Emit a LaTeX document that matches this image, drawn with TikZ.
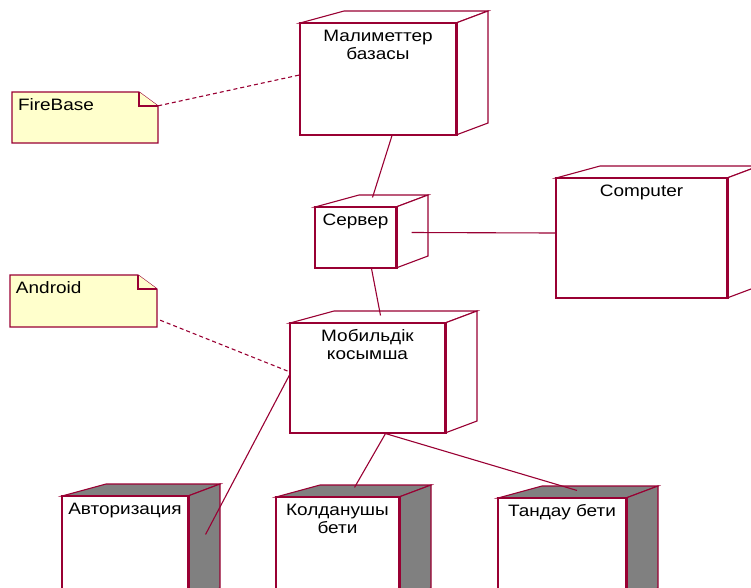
\documentclass[tikz,border=0pt]{standalone}
\usepackage{fontspec}
\setmainfont{Liberation Sans}[FakeStretch=1.15]
\usepackage{tikz}
\definecolor{rosered}{RGB}{153,0,51}
\definecolor{noteyellow}{RGB}{255,255,204}
\definecolor{sidegray}{RGB}{128,128,128}

% device box: [face fill]{name}{x0}{y0}{x1}{y1}{label}
\newcommand\devbox[7][white]{%
  \filldraw[face, fill=#1] (#3,#4) -- (#3+44,#4-12) -- (#5+32,#4-12) -- (#5,#4) -- cycle; % top
  \filldraw[face, fill=#1] (#5,#4) -- (#5+32,#4-12) -- (#5+32,#6-12) -- (#5,#6) -- cycle; % side
  \node[front, minimum width=#5pt-#3pt, minimum height=#6pt-#4pt] (#2) at ({(#3+#5)/2},{(#4+#6)/2}) {};
  \draw[rimline] (#2.north east) -- (#2.south east);
  \node[lbl, anchor=north] (#2-txt) at ([yshift=-7pt]#2.north) {#7};
}
% note: {name}{x0}{y0}{x1}{y1}{text}
\newcommand\notebox[6]{%
  \filldraw[note] (#2,#3) -- (#4-19,#3) -- (#4,#3+14) -- (#4,#5) -- (#2,#5) -- cycle;
  \draw[note] (#4-19,#3) -- (#4-19,#3+14) -- (#4,#3+14);
  \node[inner sep=0, minimum width=#4pt-#2pt, minimum height=#5pt-#3pt] (#1) at ({(#2+#4)/2},{(#3+#5)/2}) {};
  \node[lbl, anchor=north west] (#1-txt) at ([xshift=6pt,yshift=-7pt]#1.north west) {#6};
}

\begin{document}
\begin{tikzpicture}[x=1pt, y=-1pt,
    face/.style={draw=rosered, line width=1.1pt, line join=miter},
    front/.style={draw=rosered, fill=white, line width=1.1pt, inner sep=0},
    rimline/.style={draw=rosered, line width=2.4pt},
    note/.style={draw=rosered, fill=noteyellow, line width=1.1pt},
    lbl/.style={inner sep=0, align=center, font=\fontsize{16.5}{18}\selectfont},
    link/.style={draw=rosered, line width=1.1pt},
    dotlink/.style={link, dash pattern=on 4pt off 3pt}]
  \useasboundingbox (0,0) rectangle (751,587);
  \clip (0,0) rectangle (751,587);
  % notes
  \notebox{fb}{12}{92}{158}{143}{FireBase}
  \notebox{and}{10}{275}{157}{327}{Android}
  % devices
  \devbox{mal}{300}{23}{456}{135}{Малиметтер\\базасы}
  \devbox{srv}{315}{207}{396}{268}{Сервер}
  \devbox{cmp}{556}{178}{727}{298}{Computer}
  \devbox{mob}{290}{323}{445}{433}{Мобильдік\\косымша}
  \devbox[sidegray]{avt}{62}{496}{188}{600}{Авторизация}
  \devbox[sidegray]{kol}{276}{497}{399}{600}{Колданушы\\бети}
  \devbox[sidegray]{tan}{498}{498}{626}{600}{Тандау бети}
  % links
  \draw[dotlink] ([yshift=-14pt]fb.north east) -- ([yshift=4pt]mal.west);
  \draw[dotlink] ([xshift=3pt,yshift=7pt]and.south east) -- ([xshift=-2pt,yshift=7pt]mob.west);
  \draw[link] ([xshift=14pt]mal.south) -- ([xshift=17pt,yshift=9pt]srv.north);
  \draw[link] ([xshift=15pt,yshift=5pt]srv.east) -- ([yshift=5pt]cmp.west);
  \draw[link] ([xshift=16pt]srv.south) -- ([xshift=13pt,yshift=7pt]mob.north);
  \draw[link] ([yshift=3pt]mob.west) -- ([xshift=17pt,yshift=-39pt]avt.north east);
  \draw[link] ([xshift=18pt]mob.south) -- ([xshift=17pt,yshift=9pt]kol.north);
  \draw[link] ([xshift=18pt]mob.south) -- ([xshift=15pt,yshift=7pt]tan.north);
\end{tikzpicture}
\end{document}
